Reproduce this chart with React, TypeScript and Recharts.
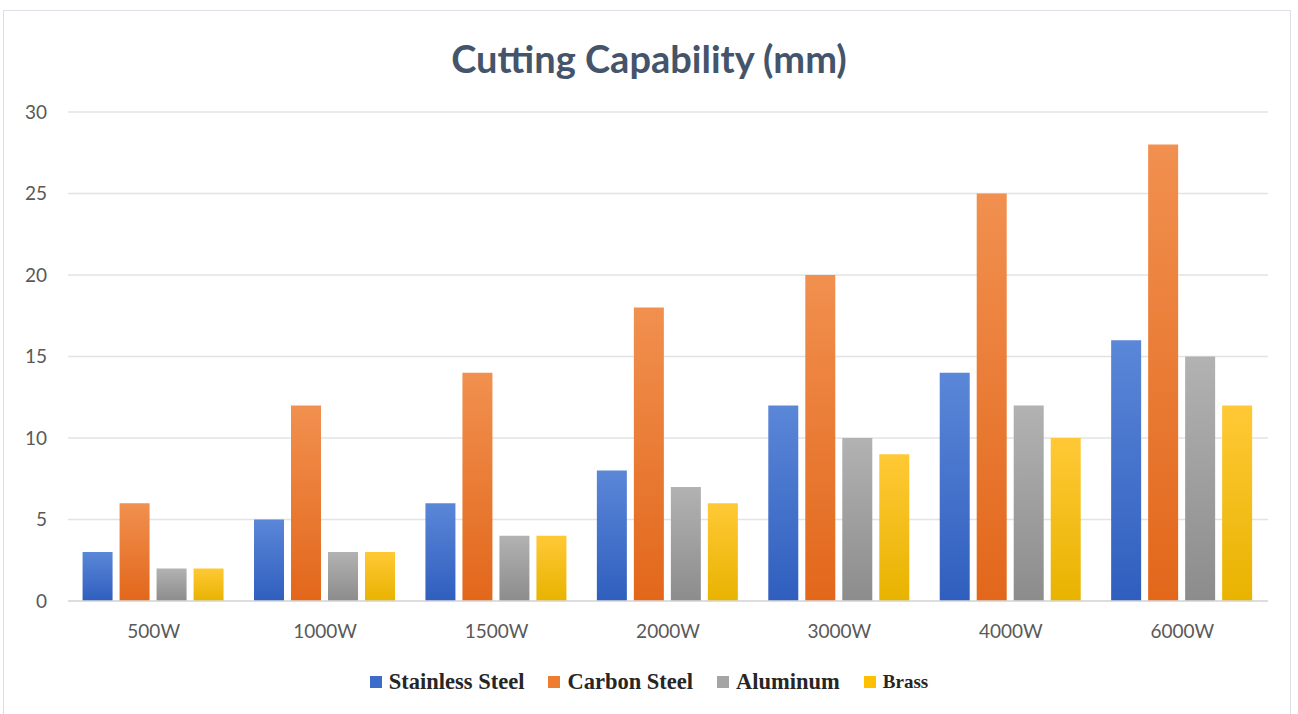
import React from 'react';
import { BarChart, Bar, XAxis, YAxis, CartesianGrid } from 'recharts';

const categories = ['500W', '1000W', '1500W', '2000W', '3000W', '4000W', '6000W'];
const stainless = [3, 5, 6, 8, 12, 14, 16];
const carbon = [6, 12, 14, 18, 20, 25, 28];
const aluminum = [2, 3, 4, 7, 10, 12, 15];
const brass = [2, 3, 4, 6, 9, 10, 12];
const yTicks = [0, 5, 10, 15, 20, 25, 30];

const series = [
  { key: 'stainless', name: 'Stainless Steel', top: '#5B87D8', bottom: '#2F5EBE', swatch: '#3D6CCB', size: 22.5 },
  { key: 'carbon', name: 'Carbon Steel', top: '#F1904F', bottom: '#E2671B', swatch: '#ED7D31', size: 22.5 },
  { key: 'aluminum', name: 'Aluminum', top: '#B2B2B2', bottom: '#8C8C8C', swatch: '#A5A5A5', size: 22.5 },
  { key: 'brass', name: 'Brass', top: '#FFC936', bottom: '#E8B300', swatch: '#FFC000', size: 19 },
];

const data = categories.map((c, i) => ({
  name: c,
  stainless: stainless[i],
  carbon: carbon[i],
  aluminum: aluminum[i],
  brass: brass[i],
}));

const tickFont = { fontFamily: 'Lato, sans-serif', fontSize: 19, fill: '#595959' };

export default function App() {
  return (
    <div style={{ position: 'absolute', left: 0, top: 0, width: 1298, height: 714, background: '#fff' }}>
      <div
        style={{
          position: 'absolute', left: 3, top: 10, width: 1288, height: 710,
          border: '1px solid #DCDEE8', boxSizing: 'border-box',
        }}
      />
      <div
        style={{
          position: 'absolute', left: 0, top: 35, width: 1298, textAlign: 'center',
          fontFamily: 'Lato, sans-serif', fontWeight: 700, fontSize: 38, color: '#44546A',
        }}
      >
        Cutting Capability (mm)
      </div>
      <BarChart
        width={1298}
        height={714}
        data={data}
        margin={{ top: 112, right: 30, bottom: 73, left: 10 }}
        barCategoryGap="8.5%"
        barGap={7}
      >
        <defs>
          {series.map((s) => (
            <linearGradient key={s.key} id={`g-${s.key}`} x1="0" y1="0" x2="0" y2="1">
              <stop offset="0%" stopColor={s.top} />
              <stop offset="100%" stopColor={s.bottom} />
            </linearGradient>
          ))}
        </defs>
        <CartesianGrid vertical={false} stroke="#E3E3E3" strokeWidth={1.5} />
        <XAxis
          dataKey="name"
          height={40}
          tickLine={false}
          tickSize={0}
          tickMargin={24}
          axisLine={{ stroke: '#D9D9D9', strokeWidth: 1.5 }}
          tick={tickFont}
        />
        <YAxis
          width={58}
          domain={[0, 30]}
          ticks={yTicks}
          axisLine={false}
          tickLine={false}
          tickSize={0}
          tickMargin={21}
          tick={tickFont}
        />
        {series.map((s) => (
          <Bar key={s.key} dataKey={s.key} name={s.name} fill={`url(#g-${s.key})`} isAnimationActive={false} />
        ))}
      </BarChart>
      <div
        style={{
          position: 'absolute', left: 0, top: 669, width: 1298, display: 'flex',
          justifyContent: 'center', alignItems: 'center', gap: 24,
          fontFamily: '"Liberation Serif", "Times New Roman", serif', fontWeight: 700, color: '#262626',
        }}
      >
        {series.map((s) => (
          <div key={s.key} style={{ display: 'flex', alignItems: 'center', gap: 7, fontSize: s.size }}>
            <span style={{ display: 'inline-block', width: 12, height: 12, background: s.swatch }} />
            <span>{s.name}</span>
          </div>
        ))}
      </div>
    </div>
  );
}
